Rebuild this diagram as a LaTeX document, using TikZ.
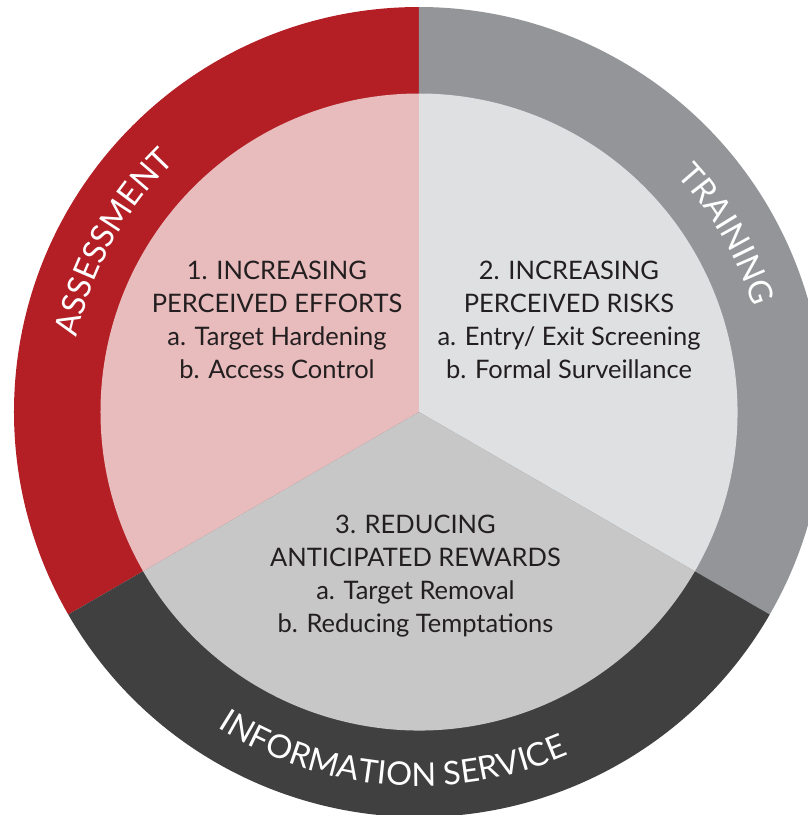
\documentclass[tikz,border=0pt]{standalone}
\usepackage{fontspec}
\newfontfamily\gill{Lato}
\usepackage{tikz}
\usetikzlibrary{decorations.text}

\definecolor{ringred}{HTML}{B31F25}
\definecolor{ringgray}{HTML}{939598}
\definecolor{ringdark}{HTML}{404040}
\definecolor{innerpink}{HTML}{E8BBBC}
\definecolor{innerlight}{HTML}{DFE0E2}
\definecolor{innergray}{HTML}{C7C7C7}
\definecolor{textdark}{HTML}{231F20}

\tikzset{
  sectortext/.style={align=center, text=textdark, font=\gill\fontsize{14.5}{18.8}\selectfont},
  ringtext/.style={decorate, decoration={text along path, text align=center, text color=white,
      text={|\gill\fontsize{18.5}{18.5}\selectfont|#1}}}
}

\def\R{8.1}
\def\r{6.37}

\begin{document}
\begin{tikzpicture}

\useasboundingbox (-8.38,-8.06) rectangle (7.78,8.24);

% outer ring
\fill[ringred]  (0,0) -- (90:\R)  arc[start angle=90,  end angle=210, radius=\R] -- cycle;
\fill[ringgray] (0,0) -- (-30:\R) arc[start angle=-30, end angle=90,  radius=\R] -- cycle;
\fill[ringdark] (0,0) -- (210:\R) arc[start angle=210, end angle=330, radius=\R] -- cycle;

% inner sectors
\fill[innerpink]  (0,0) -- (90:\r)  arc[start angle=90,  end angle=210, radius=\r] -- cycle;
\fill[innerlight] (0,0) -- (-30:\r) arc[start angle=-30, end angle=90,  radius=\r] -- cycle;
\fill[innergray]  (0,0) -- (210:\r) arc[start angle=210, end angle=330, radius=\r] -- cycle;

% ring labels
\path[ringtext={ASSESSMENT}] (181:7.0) arc[start angle=181, end angle=121, radius=7.0];
\path[ringtext={TRAINING}] (60:7.0) arc[start angle=60, end angle=0, radius=7.0];
\path[ringtext={INFORMATION SERVICE}] (235.5:7.48) arc[start angle=235.5, end angle=295.5, radius=7.48];

% sector labels
\node[sectortext] (efforts) at (-2.84,1.85) {1. INCREASING\\PERCEIVED EFFORTS\\a. Target Hardening\\b. Access Control};
\node[sectortext] (risks) at (3.0,1.85) {2. INCREASING\\PERCEIVED RISKS\\a. Entry/ Exit Screening\\b. Formal Surveillance};
\node[sectortext] (rewards) at (-0.07,-3.28) {3. REDUCING\\ANTICIPATED REWARDS\\a. Target Removal\\b. Reducing Temptations};

\end{tikzpicture}
\end{document}
